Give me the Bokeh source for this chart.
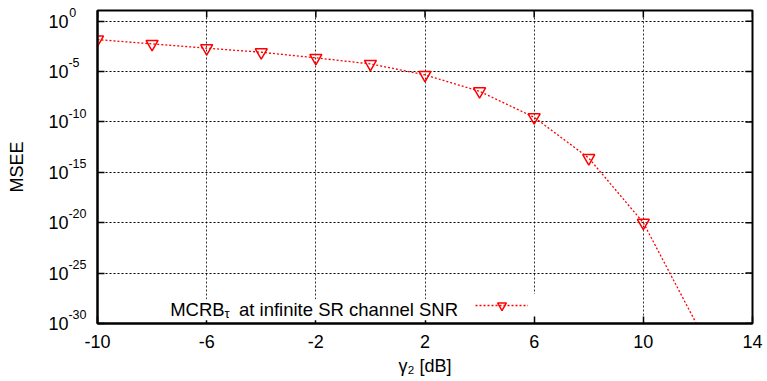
import math
from bokeh.plotting import figure
from bokeh.models import (Range1d, FixedTicker, CustomJSTickFormatter, LogAxis,
                          Label, Legend, LegendItem, ColumnDataSource)
from bokeh.embed import file_html
from bokeh.resources import INLINE

# ---- data ----
gamma_db = [-10, -8, -6, -4, -2, 0, 2, 4, 6, 8, 10, 12]
msee = [1.5e-2, 5.6e-3, 2.1e-3, 8.3e-4, 2.3e-4, 5.8e-5, 4.7e-6, 1.1e-7,
        2.9e-10, 2.6e-14, 1.0e-20, 5.0e-31]
x_ticks = [-10, -6, -2, 2, 6, 10, 14]
x_tick_labels = ["-10", "-6", "-2", "2", "6", "10", "14"]
y_ticks = [1e0, 1e-5, 1e-10, 1e-15, 1e-20, 1e-25, 1e-30]
y_tick_base = ["10", "10", "10", "10", "10", "10", "10"]
y_tick_exp = ["0", "-5", "-10", "-15", "-20", "-25", "-30"]
x_min, x_max = -10, 14
y_min, y_max = 1e-30, 11.5
series_label_parts = ["MCRB", "τ", "at infinite SR channel SNR"]
x_title = "γ₂ [dB]"
y_title = "MSEE"

FONT = "Liberation Sans"
RED = "#ff0000"
NBSP = "\u00a0"

p = figure(width=767, height=381, y_axis_type="log",
           x_range=Range1d(x_min, x_max), y_range=Range1d(y_min, y_max),
           output_backend="svg", toolbar_location=None,
           min_border_left=97, min_border_right=15, min_border_top=10, min_border_bottom=58)
p.background_fill_color = "white"
p.border_fill_color = "white"
p.outline_line_color = "black"
p.outline_line_width = 2

line_src = ColumnDataSource(dict(x=gamma_db, y=msee))
mk_x = [gx for gx, v in zip(gamma_db, msee) if v >= y_min]
mk_y = [v for v in msee if v >= y_min]
mk_src = ColumnDataSource(dict(x=mk_x, y=mk_y))

line_r = p.line("x", "y", source=line_src, line_color=RED, line_width=1.3, line_dash="2 2")
scat_r = p.scatter("x", "y", source=mk_src, marker="inverted_triangle", size=12,
                   line_color=RED, line_width=1.5, fill_color=None)

xt = FixedTicker(ticks=x_ticks, minor_ticks=[])
yt = FixedTicker(ticks=y_ticks, minor_ticks=[])

xfmt = CustomJSTickFormatter(args=dict(xvals=x_ticks, xlabels=x_tick_labels), code="""
let best = 0;
for (let i = 0; i < xvals.length; i++) {
  if (Math.abs(xvals[i] - tick) < Math.abs(xvals[best] - tick)) best = i;
}
return xlabels[best];
""")

# exponent labels: padded to equal width with no-break spaces, raised by an empty 2nd line
max_len = max(len(e) for e in y_tick_exp)
w_max = 0.333 + 0.556 * (max_len - 1)
exp_labels = []
for e in y_tick_exp:
    w = sum(0.333 if c == "-" else 0.556 for c in e)
    n_pad = round((w_max - w) / 0.278)
    exp_labels.append(e + NBSP * n_pad + "\n" + NBSP)

def lookup_formatter(labels):
    return CustomJSTickFormatter(args=dict(yvals=y_ticks, ylabels=labels), code="""
let best = 0;
const lt = Math.log10(tick);
for (let i = 0; i < yvals.length; i++) {
  if (Math.abs(Math.log10(yvals[i]) - lt) < Math.abs(Math.log10(yvals[best]) - lt)) best = i;
}
return ylabels[best];
""")

def style_axis(ax, size="18px"):
    ax.axis_line_width = 2
    ax.axis_line_color = "black"
    ax.major_tick_in = 7
    ax.major_tick_out = 0
    ax.major_tick_line_width = 1.5
    ax.major_tick_line_color = "black"
    ax.minor_tick_line_color = None
    ax.major_label_text_font = FONT
    ax.major_label_text_font_size = size
    ax.major_label_text_color = "black"
    ax.axis_label_text_font = FONT
    ax.axis_label_text_font_size = "18px"
    ax.axis_label_text_font_style = "normal"
    ax.axis_label_text_color = "black"

xax = p.xaxis[0]
yax = p.yaxis[0]
style_axis(xax)
style_axis(yax, "12.5px")
xax.ticker = xt
xax.formatter = xfmt
xax.major_label_standoff = 11
xax.axis_label = x_title
xax.axis_label_standoff = 5
yax.ticker = yt
yax.formatter = lookup_formatter(exp_labels)
yax.major_label_standoff = 11

# outer axis carrying the "10" bases of the tick labels
base_ax = LogAxis(ticker=yt, formatter=lookup_formatter(y_tick_base))
style_axis(base_ax)
base_ax.axis_line_color = None
base_ax.major_tick_line_color = None
base_ax.major_label_standoff = -3
base_ax.axis_label = y_title
base_ax.axis_label_standoff = 18
p.add_layout(base_ax, "left")

# mirrored inward ticks on top and right edges (half of each dash is clipped by the frame)
p.scatter(x_ticks, [y_max] * len(x_ticks), marker="dash", angle=math.pi / 2, size=14,
          line_color="black", line_width=1.5)
p.scatter([x_max] * len(y_ticks), y_ticks, marker="dash", size=14,
          line_color="black", line_width=1.5)

p.xgrid.ticker = xt
p.ygrid.ticker = yt
p.xgrid.grid_line_color = "#333333"
p.xgrid.grid_line_dash = "2 2"
p.xgrid.grid_line_width = 1
p.ygrid.grid_line_color = "black"
p.ygrid.grid_line_dash = "2 2"
p.ygrid.grid_line_width = 1

legend = Legend(items=[LegendItem(label=" ", renderers=[line_r, scat_r])],
                location=(378, 6.7), glyph_width=53, glyph_height=22,
                padding=0, margin=0, spacing=0, label_standoff=0, label_width=7,
                label_height=22, label_text_font_size="1px",
                background_fill_color="white", background_fill_alpha=1.0,
                border_line_color=None)
p.add_layout(legend)

p.add_layout(Label(x=72.7, y=13.7, x_units="screen", y_units="screen", text=series_label_parts[0],
                   text_font=FONT, text_font_size="18.5px", text_baseline="alphabetic",
                   text_color="black", background_fill_color="white"))
p.add_layout(Label(x=127.0, y=10.0, x_units="screen", y_units="screen", text=series_label_parts[1],
                   text_font=FONT, text_font_size="13px", text_baseline="alphabetic",
                   text_color="black", background_fill_color="white"))
p.add_layout(Label(x=141.5, y=13.7, x_units="screen", y_units="screen", text=series_label_parts[2],
                   text_font=FONT, text_font_size="18.5px", text_baseline="alphabetic",
                   text_color="black", background_fill_color="white"))

open("out.html", "w").write(file_html(p, INLINE))
